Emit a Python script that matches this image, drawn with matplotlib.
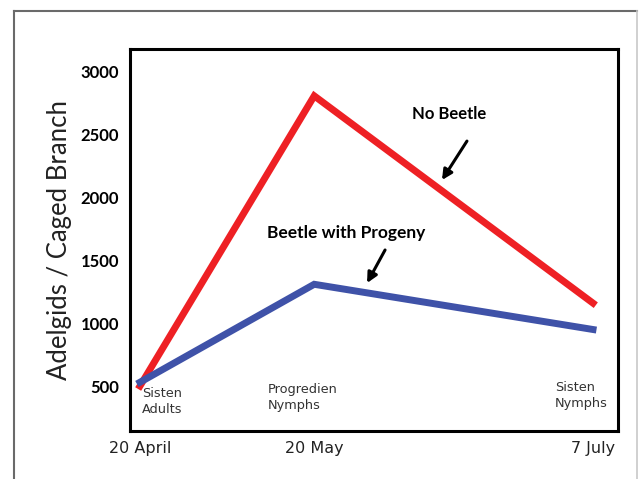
import matplotlib.pyplot as plt
from matplotlib.lines import Line2D

# Jours depuis le 20 avril
days = [0, 30, 78]
date_labels = ['20 April', '20 May', '7 July']
stage_labels = ['Sisten\nAdults', 'Progredien\nNymphs', 'Sisten\nNymphs']

no_beetle = [500, 2810, 1160]
beetle_progeny = [530, 1310, 950]

yticks = [500, 1000, 1500, 2000, 2500, 3000]

fig = plt.figure(figsize=(6.39, 4.79), dpi=100)
ax = fig.add_axes([0.2034, 0.1002, 0.7637, 0.7975])

# Cadre extérieur
fig.add_artist(Line2D([14/639, 14/639], [0, 1 - 11/479], color='#6a6a6a', lw=1.5, transform=fig.transFigure))
fig.add_artist(Line2D([14/639, 637/639], [1 - 11/479, 1 - 11/479], color='#6a6a6a', lw=1.5, transform=fig.transFigure))
fig.add_artist(Line2D([637/639, 637/639], [0, 1 - 11/479], color='#c8c8c8', lw=1.2, transform=fig.transFigure))

ax.plot(days, no_beetle, color='#ee2024', lw=5, solid_joinstyle='miter', zorder=3)
ax.plot(days, beetle_progeny, color='#3f52a8', lw=5, solid_joinstyle='miter', zorder=4)

ax.set_xlim(-1.72, 82.3)
ax.set_ylim(142, 3183)

ax.set_yticks(yticks)
ax.set_yticklabels([str(v) for v in yticks], fontsize=12, fontweight='bold', family='Lato')
ax.set_xticks(days)
ax.set_xticklabels(date_labels, fontsize=11.5, family='DejaVu Sans', color='#222222')
ax.tick_params(axis='both', length=0)
ax.tick_params(axis='y', pad=8)
ax.tick_params(axis='x', pad=7)

for s in ax.spines.values():
    s.set_linewidth(2.2)
    s.set_color('black')

ax.set_ylabel('Adelgids / Caged Branch', fontsize=18.5, family='Lato', fontweight='normal',
              color='#222222')
ax.yaxis.set_label_coords(-0.118, 0.5)

# Étiquettes des stades
stage_x = [0.34, 22.0, 71.5]
stage_y = [490, 525, 540]
for sx, sy, lab in zip(stage_x, stage_y, stage_labels):
    ax.text(sx, sy, lab, ha='left', va='top', fontsize=9.3, family='DejaVu Sans',
            color='#333333', linespacing=1.3)

# Annotations
ax.text(53.2, 2666, 'No Beetle', ha='center', va='center',
        fontsize=12, fontweight='bold', family='Lato')
ax.annotate('', xy=(52.0, 2140), xytext=(56.3, 2450),
            arrowprops=dict(arrowstyle='-|>', color='black', lw=2.2, mutation_scale=15,
                            shrinkA=0, shrinkB=0))
ax.text(35.5, 1718, 'Beetle with Progeny', ha='center', va='center',
        fontsize=12.5, fontweight='bold', family='Lato')
ax.annotate('', xy=(39.1, 1320), xytext=(42.2, 1583),
            arrowprops=dict(arrowstyle='-|>', color='black', lw=2.2, mutation_scale=15,
                            shrinkA=0, shrinkB=0))

plt.savefig('out.png', dpi=100)
